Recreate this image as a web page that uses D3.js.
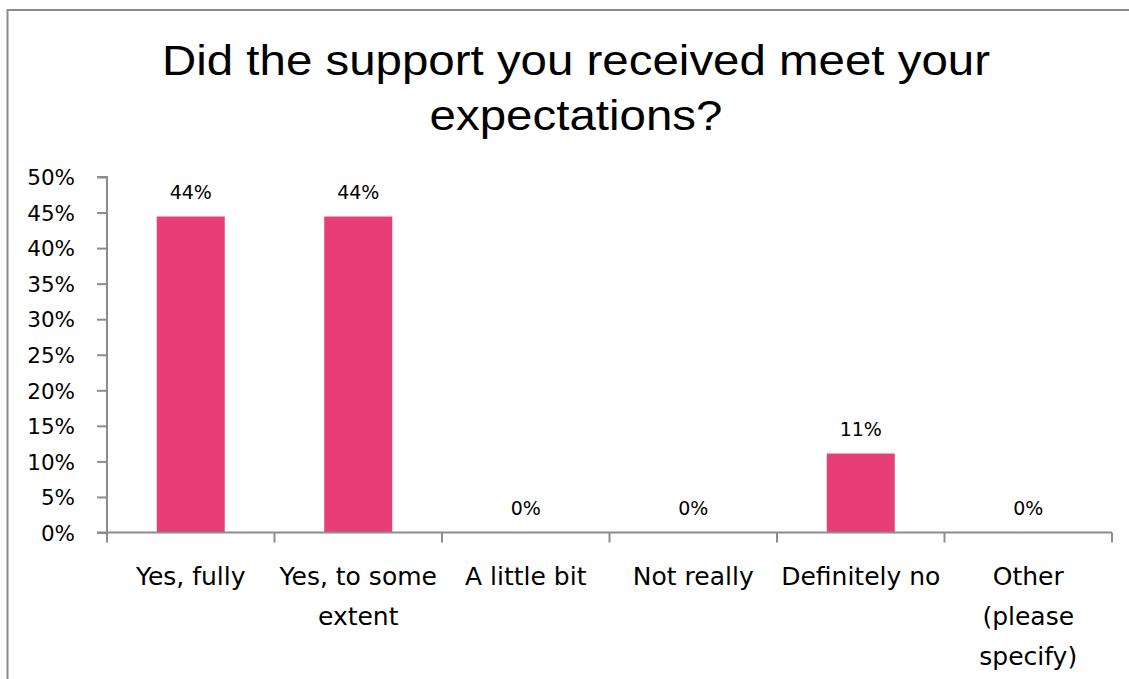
<!DOCTYPE html>
<html>
<head>
<meta charset="utf-8">
<script src="https://cdn.jsdelivr.net/npm/d3@7"></script>
<style>
  html, body { margin: 0; padding: 0; background: #fff; }
  svg { display: block; }
</style>
</head>
<body>
<svg id="chart" width="1129" height="679"></svg>
<script>
// Survey responses
const categories = ["Yes, fully", "Yes, to some extent", "A little bit", "Not really", "Definitely no", "Other (please specify)"];
const categoryLines = [["Yes, fully"], ["Yes, to some", "extent"], ["A little bit"], ["Not really"], ["Definitely no"], ["Other", "(please", "specify)"]];
const shares = [0.4444, 0.4444, 0, 0, 0.1111, 0];
const valueLabels = ["44%", "44%", "0%", "0%", "11%", "0%"];
const yTicks = [0, 0.05, 0.10, 0.15, 0.20, 0.25, 0.30, 0.35, 0.40, 0.45, 0.50];
const titleLines = ["Did the support you received meet your", "expectations?"];

const svg = d3.select("#chart");
const W = 1129, H = 679;
const barColor = "#E83E77";
const axisColor = "#8C8C8C";
const labelFont = "'DejaVu Sans', Verdana, sans-serif";

// outer frame (runs past the right and bottom edges)
svg.append("rect")
  .attr("x", 7.5).attr("y", 10)
  .attr("width", W + 20).attr("height", H + 20)
  .attr("fill", "none").attr("stroke", axisColor).attr("stroke-width", 2);

// title, slightly widened horizontally
const titleCx = 576, titleStretch = 1.13;
svg.append("g")
  .attr("transform", `translate(${titleCx},0) scale(${titleStretch},1)`)
  .selectAll("text").data(titleLines).join("text")
  .attr("x", 0).attr("y", (d, i) => 75 + i * 55)
  .attr("text-anchor", "middle")
  .attr("font-family", "'Liberation Sans', Arial, sans-serif")
  .attr("font-size", 42)
  .attr("fill", "#000")
  .text(d => d);

const plot = { left: 107, right: 1112, top: 177, bottom: 532.5 };

const x = d3.scaleBand().domain(categories).range([plot.left, plot.right]).paddingInner(0.594).paddingOuter(0.297);
const xTickScale = d3.scaleLinear().domain([0, categories.length]).range([plot.left, plot.right]);
const y = d3.scaleLinear().domain([0, 0.5]).range([plot.bottom, plot.top]);

// bars
svg.append("g").selectAll("rect").data(shares).join("rect")
  .attr("x", (d, i) => x(categories[i]))
  .attr("width", x.bandwidth())
  .attr("y", d => y(d))
  .attr("height", d => y(0) - y(d))
  .attr("fill", barColor);

// y axis
const yAxis = d3.axisLeft(y).tickValues(yTicks).tickFormat(d3.format(".0%")).tickSize(10).tickPadding(22);
const gy = svg.append("g").attr("transform", `translate(${plot.left},0)`).call(yAxis);
gy.select(".domain").attr("stroke", axisColor).attr("stroke-width", 2).attr("d", `M-10,${plot.top}H0V${plot.bottom}`);
gy.selectAll(".tick line").attr("stroke", axisColor).attr("stroke-width", 2);
gy.selectAll(".tick text").attr("font-family", labelFont).attr("font-size", 21.5).attr("fill", "#000").attr("dy", "0.36em");

// x axis baseline and category dividers
const gx = svg.append("g");
gx.append("line").attr("x1", plot.left - 10).attr("x2", plot.right).attr("y1", plot.bottom).attr("y2", plot.bottom)
  .attr("stroke", axisColor).attr("stroke-width", 2);
gx.selectAll("line.div").data(d3.range(categories.length + 1)).join("line")
  .attr("class", "div")
  .attr("x1", d => xTickScale(d)).attr("x2", d => xTickScale(d))
  .attr("y1", plot.bottom).attr("y2", plot.bottom + 10)
  .attr("stroke", axisColor).attr("stroke-width", 2);

// category labels
const catG = svg.append("g").selectAll("text").data(categoryLines).join("text")
  .attr("text-anchor", "middle")
  .attr("font-family", labelFont).attr("font-size", 25).attr("fill", "#000");
catG.selectAll("tspan").data((d, i) => d.map(line => ({ line, i }))).join("tspan")
  .attr("x", d => x(categories[d.i]) + x.bandwidth() / 2)
  .attr("y", (d, j) => 585 + j * 40)
  .text(d => d.line);

// value labels
svg.append("g").selectAll("text").data(shares).join("text")
  .attr("x", (d, i) => x(categories[i]) + x.bandwidth() / 2)
  .attr("y", d => y(d) - 18)
  .attr("text-anchor", "middle")
  .attr("font-family", labelFont).attr("font-size", 19).attr("fill", "#000")
  .text((d, i) => valueLabels[i]);
</script>
</body>
</html>
